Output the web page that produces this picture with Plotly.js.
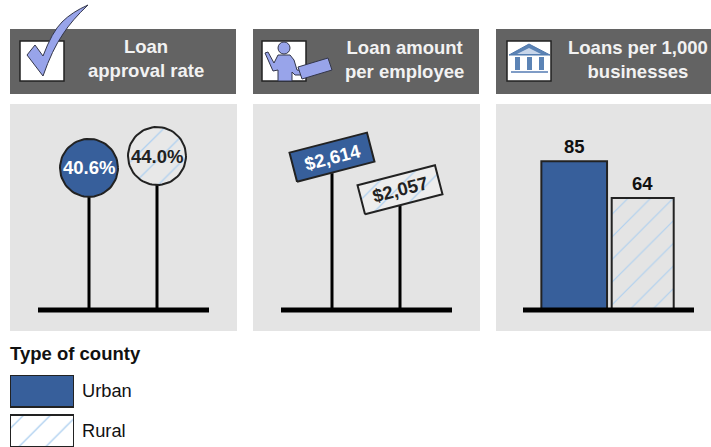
<!DOCTYPE html>
<html><head><meta charset="utf-8">
<script src="https://cdn.plot.ly/plotly-3.0.0.min.js"></script>
<style>html,body{margin:0;padding:0;background:#fff;overflow:hidden}#c{width:711px;height:447px}</style>
</head><body><div id="c"></div>
<script>
const categories = ['Urban', 'Rural'];
const approvalRate = [40.6, 44.0];
const loanAmount = [2614, 2057];
const loansPer1000 = [85, 64];
const legendTitle = 'Type of county';
const headerTitles = ['Loan<br>approval rate', 'Loan amount<br>per employee', 'Loans per 1,000<br>businesses'];

const W = 711, H = 447, FONT = '"Liberation Sans", Arial, sans-serif';
const BLUE = '#375f9b', INK = '#222222', HATCH = '#aed0f0', PANEL = '#e4e4e4', HEAD = '#636363', ICON = '#98a4ea';
const px = v => v / W, py = v => 1 - v / H;
const dom = (a, b) => [a / W, b / W], domY = (top, bot) => [1 - bot / H, 1 - top / H];
const P = (cmd) => cmd.replace(/(-?[\d.]+),(-?[\d.]+)/g, (m, x, y) => px(+x) + ',' + py(+y));

// scales: pixels per data unit
const S1 = {ux: 68, uy: 3.5}, S2 = {ux: 68, uy: 1 / 17.1}, S3 = {ux: 68.5, uy: 1.75};
const hatch = (bg, size) => ({shape: '/', fgcolor: HATCH, bgcolor: bg, size: size, solidity: 0.07, fillmode: 'replace'});

function circleOutline(cx, cy, s, r) {
  const xs = [], ys = [];
  for (let i = 0; i <= 72; i++) {
    const a = i / 72 * 2 * Math.PI;
    xs.push(cx + r * Math.cos(a) / s.ux); ys.push(cy + r * Math.sin(a) / s.uy);
  }
  return {x: xs, y: ys};
}
function signOutline(cx, cy, s, hw, hh, deg) {
  const a = deg * Math.PI / 180, c = Math.cos(a), n = Math.sin(a);
  const corners = [[-hw, -hh], [hw, -hh], [hw, hh], [-hw, hh], [-hw, -hh]];
  return {
    x: corners.map(p => cx + (p[0] * c - p[1] * n) / s.ux),
    y: corners.map(p => cy + (p[0] * n + p[1] * c) / s.uy)
  };
}
const R = 29, SIGN_HW = 40, SIGN_HH = 15, SIGN_DEG = 14.5;
const traces = [], annotations = [];
const ax = n => ({xaxis: 'x' + n, yaxis: 'y' + n, hoverinfo: 'skip', showlegend: false});

function baseline(n, x0, x1) {
  traces.push({...ax(n), type: 'scatter', mode: 'lines', x: [x0, x1], y: [0, 0], line: {color: '#000', width: 5}, cliponaxis: false});
}
function stem(n, i, top) {
  traces.push({...ax(n), type: 'scatter', mode: 'lines', x: [i, i], y: [0, top], line: {color: '#000', width: 3}});
}
function head(n, i, o, isRural, bg, size) {
  traces.push({...ax(n), type: 'scatter', mode: 'lines', x: o.x, y: o.y, fill: 'toself',
    fillcolor: isRural ? bg : BLUE,
    fillpattern: isRural ? hatch(bg, size) : undefined,
    line: {color: INK, width: 2}});
}
function label(n, x, y, text, color, angle) {
  annotations.push({xref: 'x' + n, yref: 'y' + n, x, y, text, textangle: angle || 0, showarrow: false,
    xanchor: 'center', yanchor: 'middle', font: {family: FONT, size: 18.5, color, weight: 700}});
}

// Panel 1: circles
categories.forEach((c, i) => {
  const v = approvalRate[i], rural = i === 1;
  stem('', i, v - R / S1.uy);
  head('', i, circleOutline(i, v, S1, R), rural, 'rgba(255,255,255,0.15)', 18);
  label('', i, v, v.toFixed(1) + '%', rural ? INK : '#fff');
});
baseline('', -51 / 68, 120 / 68);

// Panel 2: signs
categories.forEach((c, i) => {
  const v = loanAmount[i], rural = i === 1;
  stem('2', i, v - 16 / S2.uy);
  head('2', i, signOutline(i, v, S2, SIGN_HW, SIGN_HH, SIGN_DEG), rural, 'rgba(255,255,255,0.35)', 18);
  label('2', i, v, '$' + v.toLocaleString('en-US'), rural ? INK : '#fff', -SIGN_DEG);
});
baseline('2', -51 / 68, 120 / 68);

// Panel 3: bars, one trace per county type
const barWidths = [65.7 / 68.5, 62 / 68.5];
categories.forEach((c, i) => {
  const rural = i === 1;
  traces.push({...ax('3'), type: 'bar', name: c, x: [i], y: [loansPer1000[i]], width: [barWidths[i]],
    marker: rural
      ? {color: PANEL, line: {color: INK, width: 2}, pattern: hatch(PANEL, 16)}
      : {color: BLUE, line: {color: INK, width: 2}}});
});
loansPer1000.forEach((v, i) => label('3', i, v + 15 / S3.uy, String(v), '#111'));
baseline('3', -51.2 / 68.5, 119.8 / 68.5);

// Legend drawn as a small bar subplot
categories.forEach((c, i) => {
  const rural = i === 1;
  traces.push({...ax('4'), type: 'bar', orientation: 'h', name: c, y: [c], x: [1], width: [0.8],
    marker: rural
      ? {color: '#fff', line: {color: INK, width: 2}, pattern: hatch('#fff', 19)}
      : {color: BLUE, line: {color: INK, width: 2}}});
});

annotations.push({xref: 'paper', yref: 'paper', x: px(8), y: py(353.5), xanchor: 'left', yanchor: 'middle', showarrow: false,
  text: legendTitle, font: {family: FONT, size: 18.5, color: '#111', weight: 700}});
[[146, 58.5], [404, 59], [638, 59]].forEach((p, i) => annotations.push({xref: 'paper', yref: 'paper', x: px(p[0]), y: py(p[1]),
  xanchor: 'center', yanchor: 'middle', align: 'center', showarrow: false, text: headerTitles[i],
  font: {family: FONT, size: 18.5, color: '#f2f2f2', weight: 700}}));

// Furniture
const rect = (x0, y0, x1, y1, fill, line) => ({type: 'rect', xref: 'paper', yref: 'paper', x0: px(x0), x1: px(x1), y0: py(y0), y1: py(y1),
  fillcolor: fill, line: line ? {color: line, width: 1.5} : {width: 0}, layer: 'below'});
const poly = (d, fill, line, w) => ({type: 'path', xref: 'paper', yref: 'paper', path: P(d), fillcolor: fill,
  line: line ? {color: line, width: w || 1} : {width: 0}, layer: 'above'});
const shapes = [
  rect(10, 104, 237, 331, PANEL), rect(253, 104, 480, 331, PANEL), rect(496, 104, 711, 331, PANEL),
  rect(10, 29, 236, 94, HEAD), rect(253, 29, 479, 94, HEAD), rect(496, 29, 711, 94, HEAD),
  rect(20, 41, 64, 81, '#fff', '#222'), rect(262, 41, 306, 81, '#fff', '#222'), rect(507, 41, 551, 81, '#fff', '#222'),
  // check mark
  poly('M27,55 L35,45 L43,56 Q52,32 62,22 Q72,12 88,5 Q72,20 63,34 Q52,50 43,76 Z', ICON, '#33364a', 1),
  // presenter
  {type: 'circle', xref: 'paper', yref: 'paper', x0: px(278), x1: px(290), y0: py(42), y1: py(54), fillcolor: ICON, line: {color: '#33364a', width: 1}, layer: 'above'},
  poly('M265,53 L268,52 L274,63 L278,55 L290,55 L294,60 L297,70 L306,71 L306,75 L295,75 L292,72 L292,81 L278,81 L278,70 L273,71 Z', ICON, '#33364a', 1),
  poly('M298,67 L328,58 L332,70 L302,79 Z', ICON, '#33364a', 1),
  // bank
  poly('M509,55 L529,44 L550,55 Z', '#5b83b5', '#4f78ad', 1),
  poly('M517,54 L529,48 L541,54 Z', '#c8d6ea'),
  poly('M515,57 L520,57 L520,70 L515,70 Z', '#5b83b5'),
  poly('M527,57 L532,57 L532,70 L527,70 Z', '#5b83b5'),
  poly('M539,57 L544,57 L544,70 L539,70 Z', '#5b83b5'),
  poly('M511,71 L548,71 L548,73 L511,73 Z', '#7f9cc6')
];

const hidden = {visible: false, fixedrange: true};
const layout = {
  width: W, height: H, margin: {l: 0, r: 0, t: 0, b: 0}, showlegend: false, hovermode: false,
  paper_bgcolor: '#fff', plot_bgcolor: 'rgba(0,0,0,0)', barmode: 'overlay',
  font: {family: FONT},
  xaxis:  {...hidden, domain: dom(10, 237),  range: [-79 / 68, 148 / 68]},
  yaxis:  {...hidden, domain: domY(104, 331), range: [-21 / S1.uy, 206 / S1.uy]},
  xaxis2: {...hidden, domain: dom(253, 480), range: [-79 / 68, 148 / 68]},
  yaxis2: {...hidden, domain: domY(104, 331), range: [-21 / S2.uy, 206 / S2.uy]},
  xaxis3: {...hidden, domain: dom(496, 711), range: [-78.2 / 68.5, 136.8 / 68.5]},
  yaxis3: {...hidden, domain: domY(104, 331), range: [-21 / S3.uy, 206 / S3.uy]},
  xaxis4: {...hidden, domain: dom(10, 74), range: [0, 1]},
  yaxis4: {domain: domY(375, 447), type: 'category', categoryorder: 'array', categoryarray: categories, range: [1.4, -0.4],
    side: 'right', anchor: 'x4', showgrid: false, zeroline: false, showline: false, ticks: '', fixedrange: true,
    ticklabelstandoff: 7, ticklabelshift: 1.5, tickfont: {family: FONT, size: 18.3, color: '#111'}},
  shapes, annotations
};
Plotly.newPlot('c', traces, layout, {displayModeBar: false, staticPlot: true});
</script></body></html>
